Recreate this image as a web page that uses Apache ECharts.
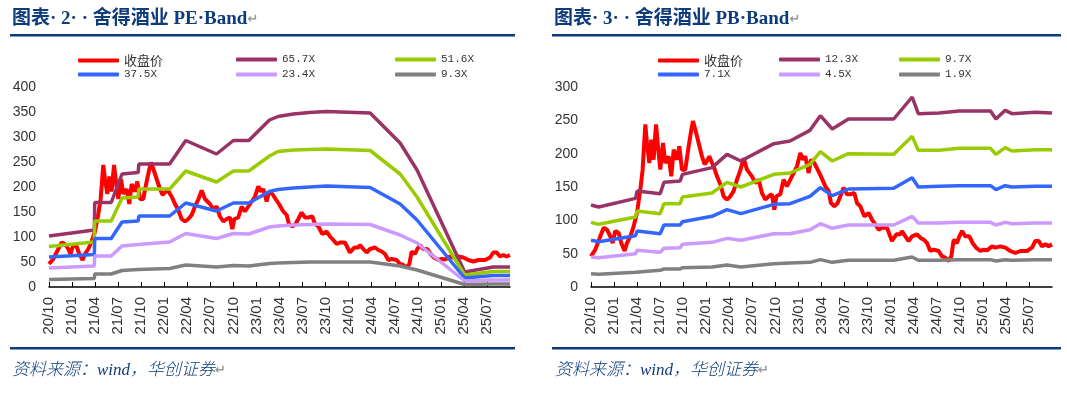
<!DOCTYPE html>
<html>
<head>
<meta charset="utf-8">
<script src="https://cdn.jsdelivr.net/npm/echarts@6/dist/echarts.min.js"></script>
<style>
  html, body { margin: 0; padding: 0; background: #fff; }
  #chart { width: 1067px; height: 396px; }
</style>
</head>
<body>
<div id="chart"></div>
<script>
  // x 轴：自 2020/10 起的月数
  const priceX = [0, 0.56, 1.21, 1.65, 2.08, 2.51, 2.81, 3.16, 3.6, 3.94, 4.38, 4.68, 5.12, 5.55, 5.98, 6.42, 6.72, 7.07, 7.28, 7.59, 7.85, 8.15, 8.46, 8.72, 9.02, 9.37, 9.67, 10.1, 10.45, 10.76, 11.19, 11.49, 11.84, 12.27, 12.71, 13.06, 13.27, 13.58, 14.01, 14.44, 14.79, 15.09, 15.4, 15.75, 15.96, 16.4, 16.83, 17.26, 17.7, 18.13, 18.57, 19.0, 19.43, 19.87, 20.3, 20.95, 21.38, 21.82, 22.25, 22.69, 23.12, 23.55, 23.86, 24.12, 24.64, 25.07, 25.5, 25.94, 26.37, 26.81, 27.24, 27.59, 27.89, 28.33, 28.63, 29.06, 29.5, 29.93, 30.5, 30.93, 31.23, 31.67, 32.1, 32.45, 32.88, 33.31, 33.75, 34.27, 34.62, 35.05, 35.57, 36.14, 36.57, 37.0, 37.44, 37.87, 38.52, 39.17, 39.74, 40.26, 40.47, 40.91, 41.34, 41.78, 42.43, 42.86, 43.3, 43.73, 44.16, 44.6, 45.25, 45.68, 46.11, 46.55, 46.9, 47.2, 47.63, 47.94, 48.29, 48.72, 49.24, 49.67, 50.11, 50.67, 51.1, 51.54, 52.19, 52.62, 53.27, 53.93, 54.58, 55.23, 55.88, 56.75, 57.4, 57.83, 58.27, 58.7, 59.13, 59.57, 60.0];
  // 收盘价
  const price = [46, 56, 76, 89, 86, 76, 66, 84, 81, 66, 54, 66, 76, 91, 111, 146, 176, 244, 216, 186, 221, 191, 244, 211, 176, 216, 186, 196, 166, 206, 191, 211, 176, 176, 211, 236, 249, 236, 216, 196, 184, 189, 196, 186, 181, 166, 154, 136, 131, 136, 144, 161, 175, 193, 176, 166, 156, 161, 141, 131, 136, 139, 116, 136, 139, 161, 151, 161, 171, 181, 201, 191, 196, 171, 191, 186, 176, 166, 151, 144, 126, 121, 126, 136, 149, 139, 139, 141, 126, 121, 106, 111, 101, 94, 86, 89, 89, 69, 79, 79, 84, 76, 69, 76, 79, 74, 71, 66, 54, 56, 54, 46, 44, 39, 46, 71, 66, 76, 84, 76, 76, 66, 59, 54, 56, 55, 61, 59, 61, 59, 54, 51, 54, 54, 59, 69, 69, 61, 64, 61, 64];

  // PE Band
  const peNames = ['65.7X', '51.6X', '37.5X', '23.4X', '9.3X'];
  const peX = [0, 5.9, 5.95, 8.1, 9.5, 11.6, 11.7, 15.7, 17.8, 21.8, 24.0, 26.0, 28.7, 29.8, 31.8, 33.9, 36.1, 41.8, 45.7, 47.9, 54.1, 57.8, 60];
  const pe657 = [102, 114, 169, 169, 226, 229, 246, 246, 293, 266, 293, 293, 334, 341, 346, 349, 351, 348, 288, 234, 30, 40, 40];
  const pe516 = [81, 90, 132, 132, 178, 180, 196, 196, 232, 210, 232, 232, 262, 271, 274, 275, 276, 273, 226, 180, 24, 31, 31];
  const pe375 = [60, 65, 97, 97, 130, 132, 142, 142, 168, 152, 168, 168, 191, 195, 198, 200, 202, 199, 166, 134, 18, 23, 23];
  const pe234 = [38, 42, 62, 62, 82, 85, 89, 90, 107, 97, 107, 106, 120, 122, 124, 125, 126, 125, 104, 88, 12, 14, 14];
  const pe93 = [15, 17, 26, 26, 33, 35, 36, 37, 44, 40, 43, 42, 47, 48, 49, 50, 50, 50, 42, 34, 5, 6, 6];

  // PB Band
  const pbNames = ['12.3X', '9.7X', '7.1X', '4.5X', '1.9X'];
  const pbX = [0, 1.0, 5.8, 6.0, 9.0, 9.5, 11.6, 11.9, 15.75, 17.7, 19.5, 23.8, 25.9, 28.5, 29.85, 31.4, 33.5, 39.4, 41.8, 42.6, 45.3, 47.9, 52.0, 52.7, 53.9, 54.8, 57.8, 60];
  const pb123 = [123, 120, 133, 144, 140, 157, 159, 169, 179, 199, 189, 215, 219, 235, 257, 237, 252, 252, 285, 260, 261, 264, 264, 252, 265, 260, 262, 261];
  const pb97 = [97, 94, 105, 114, 110, 125, 125, 135, 141, 157, 150, 169, 171, 184, 203, 189, 200, 199, 226, 205, 205, 208, 208, 199, 209, 204, 206, 206];
  const pb71 = [70, 68, 77, 84, 80, 93, 93, 98, 106, 116, 110, 124, 125, 136, 149, 137, 147, 148, 164, 150, 151, 152, 152, 146, 152, 150, 151, 151];
  const pb45 = [45, 44, 50, 55, 52, 58, 59, 64, 67, 73, 70, 80, 80, 86, 95, 88, 93, 93, 106, 96, 96, 97, 97, 93, 97, 95, 96, 96];
  const pb19 = [20, 19, 22, 24, 25, 27, 27, 29, 30, 33, 30, 35, 36, 37, 41, 37, 40, 40, 45, 40, 40, 41, 41, 39, 41, 40, 41, 41];

  const bandColors = ['#993366', '#99CC00', '#3366FF', '#CC99FF', '#808080'];
  const BLUE = '#0d3b7c';

  function zip(xs, ys) {
    return xs.map((x, i) => [x, ys[i]]);
  }

  // 月数 -> YY/MM
  function monthLabel(v) {
    let m = 9 + Math.round(v);
    let yy = 20 + Math.floor(m / 12);
    let mm = (m % 12) + 1;
    return yy + '/' + (mm < 10 ? '0' + mm : mm);
  }

  function xAxisOpt(gridIndex) {
    return {
      type: 'value', gridIndex: gridIndex, min: 0, max: 60, interval: 3,
      axisLine: {lineStyle: {color: '#000', width: 1.5}},
      axisTick: {inside: true, length: 5, lineStyle: {color: '#000'}},
      axisLabel: {
        rotate: 90, margin: 10, showMaxLabel: false,
        fontFamily: 'Liberation Sans', fontSize: 15, color: '#333',
        formatter: monthLabel
      },
      splitLine: {show: false}
    };
  }

  function yAxisOpt(gridIndex, max) {
    return {
      type: 'value', gridIndex: gridIndex, min: 0, max: max, interval: 50,
      axisLine: {show: false}, axisTick: {show: false},
      axisLabel: {margin: 13, fontFamily: 'Liberation Sans', fontSize: 14, color: '#333'},
      splitLine: {show: false}
    };
  }

  function lineSeries(name, data, color, idx, width) {
    return {
      name: name, type: 'line', data: data, xAxisIndex: idx, yAxisIndex: idx,
      symbol: 'none', lineStyle: {width: width, color: color}, itemStyle: {color: color}
    };
  }

  // 每个图例项单独放置，三列对齐
  function legendItem(name, left, top) {
    return {
      data: [name], left: left, top: top, padding: 0,
      itemWidth: 41, itemHeight: 4, icon: 'roundRect',
      selectedMode: false,
      textStyle: {
        fontFamily: 'Liberation Mono', fontSize: 11, color: '#333',
        rich: {c: {fontFamily: 'Noto Sans CJK SC', fontSize: 13, lineHeight: 14, color: '#333'}}
      },
      formatter: function (n) {
        return n === '收盘价' ? '{c|' + n + '}' : n;
      }
    };
  }

  function legendGrid(names, cols, rows) {
    return names.map((n, i) => legendItem(n, cols[i % 3], rows[Math.floor(i / 3)]));
  }

  function titleOpt(text, left, top, style) {
    return {
      text: '{a|' + text + '}{m|↵}', left: left, top: top, padding: 0,
      textStyle: {
        rich: {
          a: style,
          m: {fontFamily: 'DejaVu Sans', fontSize: 13, color: '#9a9a9a'}
        }
      }
    };
  }

  const headStyle = {fontFamily: 'Liberation Serif, Noto Sans CJK SC', fontWeight: 'bold', fontSize: 19, color: BLUE};
  const footStyle = {fontFamily: 'Liberation Serif, Noto Sans CJK SC', fontStyle: 'italic', fontWeight: 300, fontSize: 17, color: BLUE};

  const series = [lineSeries('收盘价', zip(priceX, price), '#FF0000', 0, 4)];
  [pe657, pe516, pe375, pe234, pe93].forEach((d, i) => {
    series.push(lineSeries(peNames[i], zip(peX, d), bandColors[i], 0, 3.5));
  });
  series.push(lineSeries('收盘价', zip(priceX, price), '#FF0000', 1, 4));
  [pb123, pb97, pb71, pb45, pb19].forEach((d, i) => {
    series.push(lineSeries(pbNames[i], zip(pbX, d), bandColors[i], 1, 3.5));
  });

  const legends = legendGrid(['收盘价'].concat(peNames), [78, 236, 395], [54, 69])
    .concat(legendGrid(['收盘价'].concat(pbNames), [658, 779, 899], [54, 69]));

  const chart = echarts.init(document.getElementById('chart'));
  chart.setOption({
    animation: false,
    backgroundColor: '#fff',
    title: [
      titleOpt('图表· 2· · 舍得酒业 PE·Band', 12, 10, headStyle),
      titleOpt('图表· 3· · 舍得酒业 PB·Band', 554, 10, headStyle),
      titleOpt('资料来源：wind，华创证券', 12, 362, footStyle),
      titleOpt('资料来源：wind，华创证券', 555, 362, footStyle)
    ],
    legend: legends,
    grid: [
      {left: 49, width: 461, top: 87, bottom: 109},
      {left: 591, width: 461, top: 87, bottom: 109}
    ],
    xAxis: [xAxisOpt(0), xAxisOpt(1)],
    yAxis: [yAxisOpt(0, 400), yAxisOpt(1, 300)],
    series: series,
    graphic: [
      {type: 'rect', shape: {x: 10, y: 34, width: 505, height: 2.5}, style: {fill: BLUE}},
      {type: 'rect', shape: {x: 552, y: 34, width: 509, height: 2.5}, style: {fill: BLUE}},
      {type: 'rect', shape: {x: 10, y: 347, width: 505, height: 2.5}, style: {fill: BLUE}},
      {type: 'rect', shape: {x: 552, y: 347, width: 509, height: 2.5}, style: {fill: BLUE}}
    ]
  });
</script>
</body>
</html>
